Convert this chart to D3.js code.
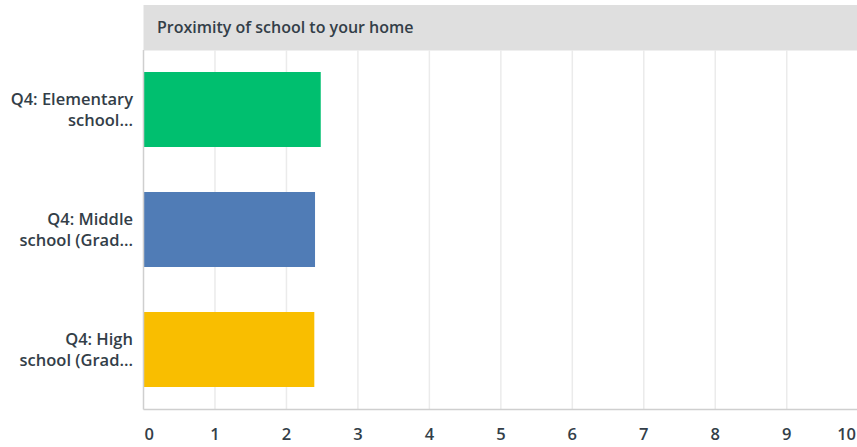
<!DOCTYPE html>
<html><head><meta charset="utf-8">
<script src="https://cdn.jsdelivr.net/npm/d3@7"></script>
<style>
html,body{margin:0;padding:0;background:#fff;}
svg{display:block;font-family:"Open Sans",sans-serif;}
</style></head>
<body>
<svg id="chart" width="857" height="447"></svg>
<script>
const title = "Proximity of school to your home";
const categories = [["Q4: Elementary","school..."],["Q4: Middle","school (Grad..."],["Q4: High","school (Grad..."]];
const values = [2.48, 2.40, 2.39];
const colors = ["#00bf6f","#507cb6","#f9be00"];
const ticks = [0,1,2,3,4,5,6,7,8,9,10];

const svg = d3.select("#chart");
const pLeft = 143.5, pRight = 858.2, pTop = 50, pBottom = 409.5;
const x = d3.scaleLinear().domain([0,10]).range([pLeft,pRight]);
const y = d3.scaleBand().domain(d3.range(categories.length)).range([49.5,409.5])
  .paddingInner(0.375).paddingOuter(0.1875);
const txt = "#333e48";

svg.append("rect").attr("x",pLeft).attr("y",5).attr("width",857-pLeft).attr("height",45.5).attr("fill","#dfdfdf");
const tt = svg.append("text").attr("x",157).attr("y",27).attr("dy","0.35em").attr("fill",txt).attr("font-size",16).attr("font-weight",600).text(title);

svg.selectAll(".grid").data(ticks.slice(1)).join("line").attr("class","grid")
  .attr("x1",d=>x(d)).attr("x2",d=>x(d)).attr("y1",pTop).attr("y2",pBottom)
  .attr("stroke","#ebebeb").attr("stroke-width",1.5);

svg.selectAll(".bar").data(values).join("rect").attr("class","bar")
  .attr("x",x(0)).attr("y",(d,i)=>y(i)).attr("width",d=>x(d)-x(0)).attr("height",y.bandwidth())
  .attr("fill",(d,i)=>colors[i]);

svg.append("line").attr("x1",pLeft).attr("x2",pLeft).attr("y1",pTop).attr("y2",pBottom).attr("stroke","#cfcfcf").attr("stroke-width",1.5);
svg.append("line").attr("x1",pLeft).attr("x2",857).attr("y1",pBottom).attr("y2",pBottom).attr("stroke","#cfcfcf").attr("stroke-width",1.5);

categories.forEach((c,i)=>{
  const cy = y(i)+y.bandwidth()/2;
  const t = svg.append("text").attr("x",133).attr("text-anchor","end").attr("fill",txt)
    .attr("font-size",16.5).attr("font-weight",600);
  c.forEach((line,j)=>{
    t.append("tspan").attr("x",133).attr("y",cy-10.5+j*21).attr("dy","0.35em").text(line);
  });
});

svg.selectAll(".tick").data(ticks).join("text").attr("class","tick")
  .attr("x",d=>d===0? pLeft+1 : (d===10? 856 : x(d)))
  .attr("text-anchor",d=>d===0?"start":(d===10?"end":"middle"))
  .attr("y",434).attr("dy","0.35em").attr("fill",txt).attr("font-size",16.5).attr("font-weight",600)
  .text(d=>d);
</script>
</body></html>
